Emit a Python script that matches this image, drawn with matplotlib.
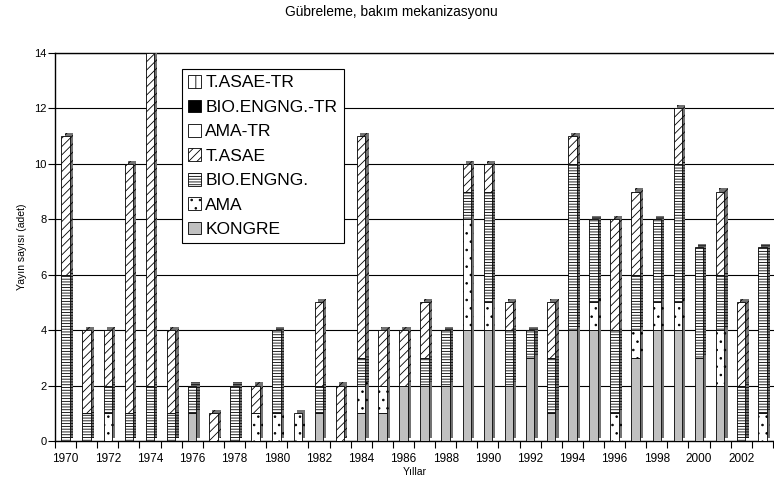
import matplotlib
matplotlib.use("Agg")
import matplotlib.pyplot as plt
import matplotlib.patheffects as pe
from matplotlib.patches import Patch
import numpy as np

plt.rcParams['font.family'] = ['Liberation Sans', 'DejaVu Sans']
plt.rcParams['hatch.linewidth'] = 0.6

years = np.arange(1970, 2004)

# values per year, 1970..2003
kongre = [0, 0, 0, 0, 0, 0, 1, 0, 0, 0, 0, 0, 1, 0, 1, 1, 2,
          2, 2, 4, 4, 2, 3, 1, 4, 4, 0, 3, 4, 4, 3, 2, 0, 0]
ama = [0, 0, 1, 0, 0, 0, 0, 0, 0, 1, 1, 1, 0, 0, 1, 1, 0,
       0, 0, 4, 1, 0, 0, 0, 0, 1, 1, 1, 1, 1, 0, 2, 0, 1]
bio = [6, 1, 1, 1, 2, 1, 1, 0, 2, 0, 3, 0, 1, 0, 1, 0, 0,
       1, 2, 1, 4, 2, 1, 2, 6, 3, 3, 2, 3, 5, 4, 2, 2, 6]
tasae = [5, 3, 2, 9, 12, 3, 0, 1, 0, 1, 0, 0, 3, 2, 8, 2, 2,
         2, 0, 1, 1, 1, 0, 2, 1, 0, 4, 3, 0, 2, 0, 3, 3, 0]
ama_tr = [0] * 34
bio_tr = [0] * 34
tasae_tr = [0] * 34

series = [
    ("KONGRE", kongre, "#c0c0c0", None),
    ("AMA", ama, "white", ".."),
    ("BIO.ENGNG.", bio, "white", "------"),
    ("T.ASAE", tasae, "white", "////"),
    ("AMA-TR", ama_tr, "white", None),
    ("BIO.ENGNG.-TR", bio_tr, "black", None),
    ("T.ASAE-TR", tasae_tr, "white", "||"),
]

fig = plt.figure(figsize=(7.74, 4.84), dpi=100)
ax = fig.add_axes([55 / 774, 43 / 484, 719 / 774, 388 / 484])

shadow = [pe.SimplePatchShadow(offset=(2.3, 2.3), shadow_rgbFace='0.45', alpha=1.0),
          pe.Normal()]

bottom = np.zeros(len(years))
handles = []
for name, vals, color, hatch in series:
    vals = np.array(vals, dtype=float)
    m = vals > 0
    if m.any():
        bars = ax.bar(years[m], vals[m], bottom=bottom[m], width=0.4,
                      color=color, hatch=hatch, edgecolor='black',
                      linewidth=0.6, zorder=3)
        for b in bars:
            b.set_path_effects(shadow)
    bottom += vals
    handles.append(Patch(facecolor=color, hatch=hatch, edgecolor='black',
                         linewidth=0.6, label=name))

ax.set_xlim(1969.5, 2003.55)
ax.set_ylim(0, 14)
ax.set_yticks(np.arange(0, 15, 2))
ax.set_xticks(years[::2])
ax.set_xticks(np.arange(1969.5, 2004, 1), minor=True)
ax.tick_params(axis='x', which='major', length=0, labelsize=8.5, pad=9)
ax.tick_params(axis='x', which='minor', length=5, width=0.8, direction='out')
ax.tick_params(axis='y', length=5, width=0.8, labelsize=8, pad=1)
ax.yaxis.grid(True, color='black', linewidth=0.8)
ax.set_axisbelow(True)
ax.spines['right'].set_visible(False)
for s in ['left', 'bottom', 'top']:
    ax.spines[s].set_linewidth(1.0)

ax.set_xlabel("Yıllar", fontsize=7.5, labelpad=1)
ax.set_ylabel("Yayın sayısı (adet)", fontsize=7.5, labelpad=5)
fig.text(391 / 774, 1 - 12 / 484, "Gübreleme, bakım mekanizasyonu",
         ha='center', va='center', fontsize=9.9)

leg = ax.legend(handles=handles[::-1], loc='upper left',
                bbox_to_anchor=(182 / 774, 1 - 69 / 484),
                bbox_transform=fig.transFigure, fontsize=12.5,
                frameon=True, fancybox=False, edgecolor='black',
                framealpha=1, borderaxespad=0, handlelength=0.75,
                handleheight=0.75, handletextpad=0.25, labelspacing=0.52,
                borderpad=0.35)
leg.get_frame().set_linewidth(0.8)

fig.savefig("out.png", dpi=100)
